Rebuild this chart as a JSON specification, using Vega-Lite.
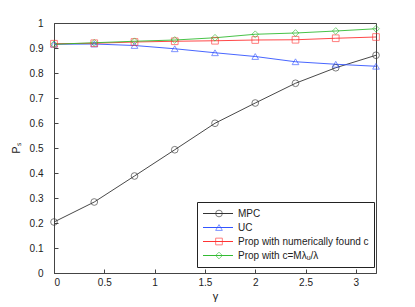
{
  "$schema": "https://vega.github.io/schema/vega-lite/v6.json",
  "width": 322,
  "height": 250,
  "autosize": "none",
  "padding": {"left": 54, "top": 23, "right": 39, "bottom": 34},
  "background": "white",
  "config": {
    "font": "Liberation Sans",
    "view": {"stroke": "#444", "strokeWidth": 1},
    "axis": {
      "grid": false,
      "domainColor": "#444",
      "tickColor": "#444",
      "tickSize": -4,
      "labelFontSize": 10,
      "labelColor": "#222",
      "titleFontSize": 11,
      "titleFontWeight": "normal",
      "titleColor": "#222"
    }
  },
  "data": {
    "values": [
      {"g": 0, "p": 0.204, "s": "MPC"},
      {"g": 0.4, "p": 0.284, "s": "MPC"},
      {"g": 0.8, "p": 0.388, "s": "MPC"},
      {"g": 1.2, "p": 0.493, "s": "MPC"},
      {"g": 1.6, "p": 0.599, "s": "MPC"},
      {"g": 2.0, "p": 0.680, "s": "MPC"},
      {"g": 2.4, "p": 0.759, "s": "MPC"},
      {"g": 2.8, "p": 0.821, "s": "MPC"},
      {"g": 3.2, "p": 0.871, "s": "MPC"},
      {"g": 0, "p": 0.915, "s": "UC"},
      {"g": 0.4, "p": 0.916, "s": "UC"},
      {"g": 0.8, "p": 0.910, "s": "UC"},
      {"g": 1.2, "p": 0.897, "s": "UC"},
      {"g": 1.6, "p": 0.881, "s": "UC"},
      {"g": 2.0, "p": 0.866, "s": "UC"},
      {"g": 2.4, "p": 0.845, "s": "UC"},
      {"g": 2.8, "p": 0.835, "s": "UC"},
      {"g": 3.2, "p": 0.827, "s": "UC"},
      {"g": 0, "p": 0.917, "s": "Prop with numerically found c"},
      {"g": 0.4, "p": 0.919, "s": "Prop with numerically found c"},
      {"g": 0.8, "p": 0.924, "s": "Prop with numerically found c"},
      {"g": 1.2, "p": 0.927, "s": "Prop with numerically found c"},
      {"g": 1.6, "p": 0.929, "s": "Prop with numerically found c"},
      {"g": 2.0, "p": 0.932, "s": "Prop with numerically found c"},
      {"g": 2.4, "p": 0.933, "s": "Prop with numerically found c"},
      {"g": 2.8, "p": 0.939, "s": "Prop with numerically found c"},
      {"g": 3.2, "p": 0.944, "s": "Prop with numerically found c"},
      {"g": 0, "p": 0.915, "s": "Prop with c=Mλᵤ/λ"},
      {"g": 0.4, "p": 0.921, "s": "Prop with c=Mλᵤ/λ"},
      {"g": 0.8, "p": 0.927, "s": "Prop with c=Mλᵤ/λ"},
      {"g": 1.2, "p": 0.932, "s": "Prop with c=Mλᵤ/λ"},
      {"g": 1.6, "p": 0.941, "s": "Prop with c=Mλᵤ/λ"},
      {"g": 2.0, "p": 0.955, "s": "Prop with c=Mλᵤ/λ"},
      {"g": 2.4, "p": 0.960, "s": "Prop with c=Mλᵤ/λ"},
      {"g": 2.8, "p": 0.968, "s": "Prop with c=Mλᵤ/λ"},
      {"g": 3.2, "p": 0.977, "s": "Prop with c=Mλᵤ/λ"}
    ]
  },
  "layer": [
    {
      "mark": {"type": "line", "strokeWidth": 0.9},
      "encoding": {
        "x": {"field": "g", "type": "quantitative", "scale": {"domain": [0, 3.2], "nice": false, "zero": false},
              "axis": {"title": "γ", "values": [0, 0.5, 1, 1.5, 2, 2.5, 3], "format": "~g", "labelPadding": 8, "titlePadding": 3}},
        "y": {"field": "p", "type": "quantitative", "scale": {"domain": [0, 1], "nice": false},
              "axis": {"title": "Pₛ", "values": [0, 0.1, 0.2, 0.3, 0.4, 0.5, 0.6, 0.7, 0.8, 0.9, 1], "format": "~g", "labelPadding": 15, "titlePadding": 8}},
        "color": {"field": "s", "type": "nominal",
                  "scale": {"domain": ["MPC", "UC", "Prop with numerically found c", "Prop with c=Mλᵤ/λ"],
                            "range": ["#333333", "#3355ff", "#ff3333", "#33bb33"]},
                  "legend": {
                    "title": null,
                    "orient": "none",
                    "legendX": 143,
                    "legendY": 179,
                    "padding": 5,
                    "strokeColor": "#222",
                    "fillColor": "white",
                    "labelFontSize": 10,
                    "labelColor": "#222",
                    "labelLimit": 300,
                    "symbolType": "stroke",
                    "symbolSize": 900,
                    "symbolStrokeWidth": 1.2,
                    "symbolOpacity": 1,
                    "labelOffset": 4,
                    "rowPadding": 1,
                    "clipHeight": 13
                  }},
        "order": {"field": "g", "type": "quantitative"}
      }
    },
    {
      "mark": {"type": "point", "filled": false, "size": 45, "strokeWidth": 0.9},
      "encoding": {
        "x": {"field": "g", "type": "quantitative", "axis": null},
        "y": {"field": "p", "type": "quantitative", "axis": null},
        "stroke": {"field": "s", "type": "nominal",
                   "scale": {"domain": ["UC", "MPC", "Prop with numerically found c", "Prop with c=Mλᵤ/λ"],
                             "range": ["#3355ff", "#333333", "#ff3333", "#33bb33"]},
                   "legend": {
                     "title": null,
                     "values": ["MPC", "UC", "Prop with numerically found c", "Prop with c=Mλᵤ/λ"],
                     "orient": "none",
                     "legendX": 155,
                     "legendY": 179,
                     "padding": 5,
                     "fillColor": "transparent",
                     "labelFontSize": 10,
                     "labelExpr": "''",
                     "symbolSize": 45,
                     "symbolStrokeWidth": 0.9,
                     "symbolFillColor": "white",
                     "labelOffset": 4,
                     "rowPadding": 1,
                     "clipHeight": 13
                   }},
        "shape": {"field": "s", "type": "nominal",
                  "scale": {"domain": ["UC", "MPC", "Prop with numerically found c", "Prop with c=Mλᵤ/λ"],
                            "range": ["triangle-up", "circle", "square", "diamond"]},
                  "legend": {
                    "title": null,
                    "values": ["MPC", "UC", "Prop with numerically found c", "Prop with c=Mλᵤ/λ"],
                    "orient": "none",
                    "legendX": 155,
                    "legendY": 179,
                    "padding": 5,
                    "fillColor": "transparent",
                    "labelFontSize": 10,
                    "labelExpr": "''",
                    "symbolSize": 45,
                    "symbolStrokeWidth": 0.9,
                    "symbolFillColor": "white",
                    "labelOffset": 4,
                    "rowPadding": 1,
                    "clipHeight": 13
                  }}
      }
    }
  ],
  "resolve": {"axis": {"x": "independent", "y": "independent"}}
}
